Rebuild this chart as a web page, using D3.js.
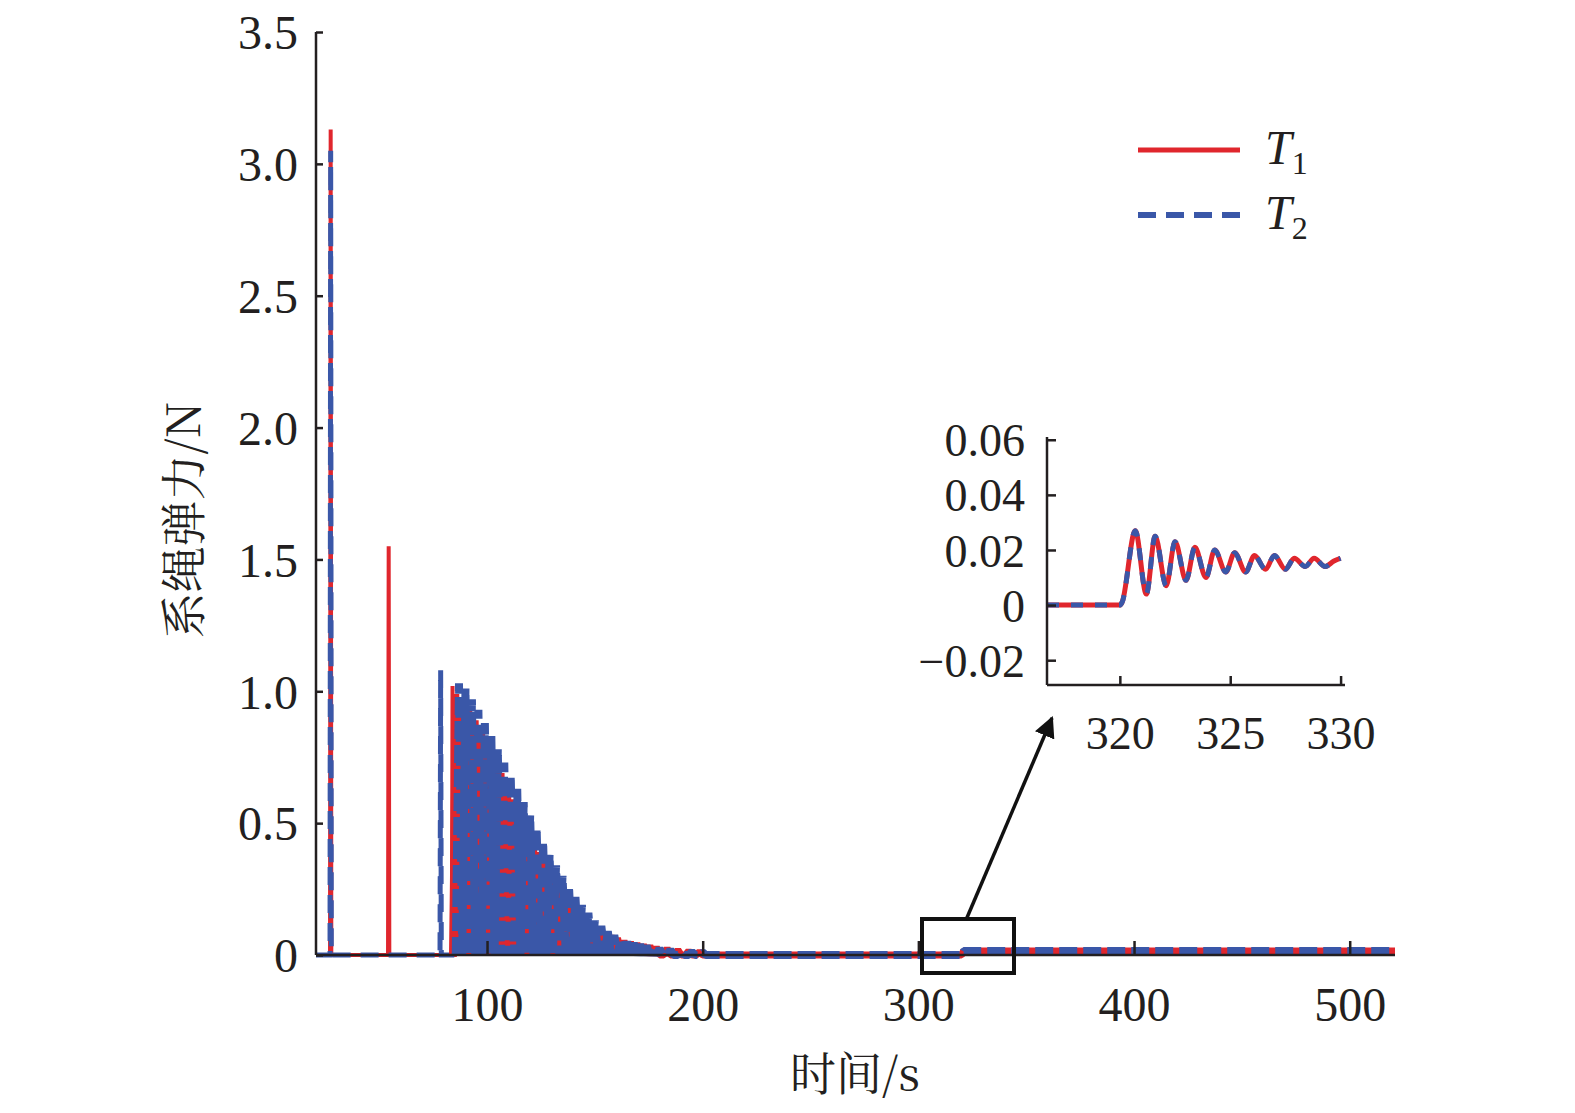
<!DOCTYPE html>
<html><head><meta charset="utf-8">
<script src="https://cdn.jsdelivr.net/npm/d3@7"></script>
<style>
body{margin:0;background:#fff}
text{font-family:"Liberation Serif","DejaVu Serif",serif;fill:#231f20}
</style></head>
<body><svg id="c" width="1575" height="1113"></svg>
<script>
// isolated spikes [time, T value]
const t1Spikes = [[27.5, 3.13], [54.4, 1.55], [84.0, 1.02]];
const t2Spikes = [[27.5, 3.05], [78.5, 1.08]];
// dense oscillation peaks (time, peak)
const densTimes = [87,90,93,96,99,102,105,108,111,114,117,120,123,126,129,132,135,138,141,144,147,150,153,156,159,162,165,168,171,174,177,180,185,190,195,200];
const t2Peaks = [1.03,1.01,0.97,0.93,0.88,0.83,0.78,0.73,0.68,0.63,0.58,0.53,0.48,0.43,0.38,0.34,0.30,0.26,0.22,0.19,0.16,0.13,0.11,0.09,0.075,0.06,0.05,0.045,0.04,0.035,0.03,0.025,0.02,0.015,0.012,0.01];
const t1Peaks = [0.99,0.97,0.93,0.89,0.84,0.79,0.74,0.69,0.64,0.59,0.54,0.49,0.44,0.39,0.35,0.31,0.27,0.23,0.2,0.17,0.14,0.12,0.1,0.085,0.075,0.065,0.055,0.05,0.045,0.04,0.035,0.03,0.025,0.02,0.015,0.012];
// inset: time and value pairs between 316.7 and 330
const insetT = [316.7,320.0,320.1,320.7,321.2,321.6,322.1,322.5,323.0,323.4,323.9,324.3,324.8,325.2,325.7,326.1,326.6,327.0,327.5,327.9,328.4,328.8,329.3,329.7,330.0];
const insetV = [0,0,0.001,0.027,0.004,0.025,0.007,0.023,0.009,0.021,0.010,0.020,0.012,0.019,0.012,0.018,0.013,0.018,0.013,0.017,0.014,0.017,0.014,0.016,0.017];
const xTicks = [100,200,300,400,500];
const yTicks = [0,0.5,1.0,1.5,2.0,2.5,3.0,3.5];
const insetXTicks = [320,325,330];
const insetYTicks = [-0.02,0,0.02,0.04,0.06];

const RED = '#e0262d', BLUE = '#3a57a8';
const svg = d3.select('#c');

const x = d3.scaleLinear().domain([20.7, 521]).range([316, 1395]);
const y = d3.scaleLinear().domain([0, 3.5]).range([955, 32]);

function spikes(list, w) {
  const pts = [];
  list.forEach(([t, v]) => { pts.push([t - w, 0], [t, v], [t + w, 0]); });
  return pts;
}
const line = d3.line().x(d => x(d[0])).y(d => y(d[1]));

const dense1 = densTimes.map((t, i) => [t - 1.5, t1Peaks[i]]);
const dense2 = densTimes.map((t, i) => [t, t2Peaks[i]]);
const tail = [[300, 0], [320, 0], [321, 0.015], [521, 0.015]];

// thin isolated spikes
const t1Iso = [[20.7, 0]].concat(spikes(t1Spikes, 0.3), [[86, 0]]);
const t2Iso = [[20.7, 0]].concat(spikes(t2Spikes, 0.3), [[86, 0]]);
svg.append('path').attr('d', line(t1Iso)).attr('fill', 'none')
  .attr('stroke', RED).attr('stroke-width', 4);
svg.append('path').attr('d', line(t2Iso)).attr('fill', 'none')
  .attr('stroke', BLUE).attr('stroke-width', 5).attr('stroke-dasharray', '18,10');

// dense oscillation region
svg.append('path').attr('d', line(spikes(dense1, 1.5).concat(tail))).attr('fill', 'none')
  .attr('stroke', RED).attr('stroke-width', 7).attr('stroke-linejoin', 'bevel');
svg.append('path').attr('d', line(spikes(dense2, 1.5).concat(tail))).attr('fill', 'none')
  .attr('stroke', BLUE).attr('stroke-width', 8).attr('stroke-linejoin', 'bevel').attr('stroke-dasharray', '18,6');

// axes
const yAx = svg.append('g').attr('transform', 'translate(316,0)')
  .call(d3.axisRight(y).tickValues(yTicks).tickSize(7).tickFormat(d => d === 0 ? '0' : d3.format('.1f')(d)));
yAx.selectAll('text').attr('x', -18).attr('text-anchor', 'end').attr('font-size', 48).attr('dy', '0.35em');
const xAx = svg.append('g').attr('transform', 'translate(0,955)')
  .call(d3.axisTop(x).tickValues(xTicks).tickSize(14).tickFormat(d3.format('d')));
xAx.selectAll('text').attr('y', 66).attr('font-size', 48).attr('dy', 0);
[yAx, xAx].forEach(a => { a.selectAll('line,path').attr('stroke', '#231f20').attr('stroke-width', 2.5); a.select('.domain').attr('d', a === yAx ? 'M0,32V955' : 'M316,0H1395'); });

svg.append('text').attr('transform', 'translate(200,520) rotate(-90)').attr('text-anchor', 'middle')
  .attr('font-size', 46).style('font-family', '"Noto Serif CJK SC","Noto Sans CJK SC","Liberation Serif"').text('系绳弹力/N');
svg.append('text').attr('x', 855).attr('y', 1090).attr('text-anchor', 'middle')
  .attr('font-size', 46).style('font-family', '"Noto Serif CJK SC","Noto Sans CJK SC","Liberation Serif"').text('时间/s');

// legend
const leg = svg.append('g');
[[150, RED, null, 5, '1'], [215, BLUE, '18,10', 6, '2']].forEach(([ly, c, da, w, sub]) => {
  leg.append('line').attr('x1', 1138).attr('x2', 1240).attr('y1', ly).attr('y2', ly)
    .attr('stroke', c).attr('stroke-width', w).attr('stroke-dasharray', da);
  const t = leg.append('text').attr('x', 1265).attr('y', ly + 14).attr('font-size', 48).attr('font-style', 'italic');
  t.append('tspan').text('T');
  t.append('tspan').attr('font-size', 32).attr('font-style', 'normal').attr('dy', 10).text(sub);
});

// zoom box and arrow
svg.append('rect').attr('x', 922).attr('y', 919).attr('width', 92).attr('height', 54)
  .attr('fill', 'none').attr('stroke', '#111').attr('stroke-width', 4);
svg.append('defs').append('marker').attr('id', 'ar').attr('viewBox', '0 0 10 10').attr('refX', 9).attr('refY', 5)
  .attr('markerWidth', 6).attr('markerHeight', 6).attr('orient', 'auto')
  .append('path').attr('d', 'M0,0L10,5L0,10z').attr('fill', '#111');
svg.append('line').attr('x1', 966).attr('y1', 920).attr('x2', 1052).attr('y2', 718)
  .attr('stroke', '#111').attr('stroke-width', 3.5).attr('marker-end', 'url(#ar)');

// inset
const ix = d3.scaleLinear().domain([316.7, 330.2]).range([1047, 1345]);
const iy = d3.scaleLinear().domain([-0.029, 0.061]).range([685, 437]);
const iline = d3.line().x((d, i) => ix(insetT[i])).y(d => iy(d)).curve(d3.curveMonotoneX);
svg.append('path').attr('d', iline(insetV)).attr('fill', 'none').attr('stroke', RED).attr('stroke-width', 5);
svg.append('path').attr('d', iline(insetV)).attr('fill', 'none').attr('stroke', BLUE).attr('stroke-width', 5)
  .attr('stroke-dasharray', '12,12');
const iyAx = svg.append('g').attr('transform', 'translate(1047,0)')
  .call(d3.axisRight(iy).tickValues(insetYTicks).tickSize(9).tickFormat(d => d === 0 ? '0' : (d < 0 ? '\u22120.02' : d3.format('.2f')(d))));
iyAx.selectAll('text').attr('x', -22).attr('text-anchor', 'end').attr('font-size', 46).attr('dy', '0.35em');
const ixAx = svg.append('g').attr('transform', 'translate(0,685)')
  .call(d3.axisTop(ix).tickValues(insetXTicks).tickSize(9).tickFormat(d3.format('d')));
ixAx.selectAll('text').attr('y', 64).attr('font-size', 46).attr('dy', 0);
[iyAx, ixAx].forEach(a => { a.selectAll('line,path').attr('stroke', '#231f20').attr('stroke-width', 2.5); a.select('.domain').attr('d', a === iyAx ? 'M0,437V685' : 'M1047,0H1345'); });
</script></body></html>
